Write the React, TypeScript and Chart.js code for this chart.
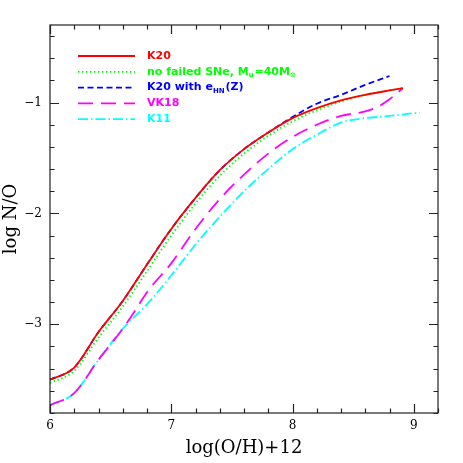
import React, { useEffect, useRef } from "react";
import { Chart, registerables } from "chart.js";

Chart.register(...registerables);

// ---- data ----
const k20X = [6.0, 6.2, 6.4, 6.6, 6.8, 7.0, 7.2, 7.4, 7.6, 7.8, 8.0, 8.2, 8.4, 8.6, 8.8, 8.91];
const k20Y = [-3.50, -3.39, -3.07, -2.79, -2.46, -2.14, -1.86, -1.61, -1.42, -1.27, -1.14, -1.05, -0.98, -0.93, -0.89, -0.87];

const noFailedX = [6.0, 6.2, 6.4, 6.6, 6.8, 7.0, 7.2, 7.4, 7.6, 7.8, 8.0, 8.2, 8.4, 8.6, 8.8, 8.91];
const noFailedY = [-3.53, -3.42, -3.12, -2.84, -2.52, -2.20, -1.91, -1.66, -1.46, -1.30, -1.17, -1.07, -0.99, -0.93, -0.89, -0.87];

const k20eX = [6.0, 6.2, 6.4, 6.6, 6.8, 7.0, 7.2, 7.4, 7.6, 7.8, 8.0, 8.2, 8.4, 8.6, 8.8];
const k20eY = [-3.50, -3.39, -3.07, -2.79, -2.46, -2.14, -1.86, -1.61, -1.42, -1.27, -1.13, -1.01, -0.93, -0.84, -0.76];

const vk18X = [6.0, 6.2, 6.4, 6.6, 6.7, 6.8, 7.0, 7.2, 7.4, 7.6, 7.8, 8.0, 8.2, 8.4, 8.6, 8.7, 8.8, 8.91];
const vk18Y = [-3.73, -3.62, -3.32, -3.04, -2.88, -2.71, -2.45, -2.14, -1.87, -1.65, -1.46, -1.31, -1.20, -1.12, -1.08, -1.04, -0.97, -0.87];

const k11X = [6.0, 6.2, 6.4, 6.6, 6.8, 7.0, 7.2, 7.4, 7.6, 7.8, 8.0, 8.2, 8.4, 8.5, 8.6, 8.8, 9.05];
const k11Y = [-3.73, -3.62, -3.32, -3.04, -2.82, -2.56, -2.28, -2.03, -1.80, -1.60, -1.42, -1.29, -1.18, -1.155, -1.14, -1.12, -1.09];

const xMajorTicks = [6, 7, 8, 9];
const yMajorTicks = [-3, -2, -1];
const xRange = [6, 9.2];
const yRange = [-3.8, -0.3];
const minorStep = 0.2;

const xTitle = "log(O/H)+12";
const yTitle = "log N/O";

// legend pieces: [text, isSubscript]
const legendItems = [
  { color: "#ff0000", dash: [] as number[], parts: [["K20", false]] },
  { color: "#00ff00", dash: [1.5, 2.5], parts: [["no failed SNe, M", false], ["u", true], ["=40M", false], ["\u2299", true]] },
  { color: "#0000ff", dash: [6, 3.5], parts: [["K20 with e", false], ["HN", true], ["(Z)", false]] },
  { color: "#ff00ff", dash: [15, 8], parts: [["VK18", false]] },
  { color: "#00ffff", dash: [10, 3, 1.5, 3], parts: [["K11", false]] },
];

const zip = (xs: number[], ys: number[]) => xs.map((x, i) => ({ x, y: ys[i] }));

const framePlugin = {
  id: "frameTicks",
  afterDraw(chart: any) {
    const { ctx, chartArea, scales } = chart;
    const { left, right, top, bottom } = chartArea;
    const xs = scales.x;
    const ys = scales.y;
    ctx.save();
    ctx.strokeStyle = "#222";
    ctx.lineWidth = 1.2;
    ctx.setLineDash([]);
    ctx.strokeRect(left, top, right - left, bottom - top);
    const n = Math.floor((xRange[1] - xRange[0]) / minorStep + 1e-6);
    for (let i = 0; i <= n; i++) {
      const v = +(xRange[0] + i * minorStep).toFixed(3);
      if (v > xRange[1] + 1e-6) continue;
      const major = xMajorTicks.some((t) => Math.abs(t - v) < 1e-6);
      const len = major ? 9 : 4.5;
      const px = Math.round(xs.getPixelForValue(v)) + 0.5;
      ctx.beginPath();
      ctx.moveTo(px, bottom);
      ctx.lineTo(px, bottom - len);
      ctx.moveTo(px, top);
      ctx.lineTo(px, top + len);
      ctx.stroke();
    }
    const m = Math.floor((yRange[1] - yRange[0]) / minorStep + 1e-6);
    for (let i = 0; i <= m; i++) {
      const v = +(yRange[0] + i * minorStep).toFixed(3);
      if (v > yRange[1] + 1e-6) continue;
      const major = yMajorTicks.some((t) => Math.abs(t - v) < 1e-6);
      const len = major ? 9 : 4.5;
      const py = Math.round(ys.getPixelForValue(v)) + 0.5;
      ctx.beginPath();
      ctx.moveTo(left, py);
      ctx.lineTo(left + len, py);
      ctx.moveTo(right, py);
      ctx.lineTo(right - len, py);
      ctx.stroke();
    }
    // legend
    const lx0 = 78, lx1 = 135, tx = 147, y0 = 56, dy = 15.8;
    const mainFont = 'bold 11px "DejaVu Sans"';
    const subFont = 'bold 7px "DejaVu Sans"';
    legendItems.forEach((it, i) => {
      const y = y0 + i * dy;
      ctx.strokeStyle = it.color;
      ctx.lineWidth = 1.8;
      ctx.setLineDash(it.dash);
      ctx.beginPath();
      ctx.moveTo(lx0, y);
      ctx.lineTo(lx1, y);
      ctx.stroke();
      ctx.setLineDash([]);
      ctx.fillStyle = it.color;
      ctx.textBaseline = "middle";
      ctx.textAlign = "left";
      let x = tx;
      it.parts.forEach(([t, sub]) => {
        ctx.font = sub ? subFont : mainFont;
        ctx.fillText(t as string, x, sub ? y + 3.5 : y);
        x += ctx.measureText(t as string).width + (sub ? 0.8 : 0);
      });
    });
    ctx.restore();
  },
};

export default function App() {
  const ref = useRef<HTMLCanvasElement | null>(null);
  useEffect(() => {
    document.body.style.margin = "0";
    const canvas = ref.current;
    if (!canvas) return;
    const lw = 1.8;
    const common = { pointRadius: 0, fill: false, cubicInterpolationMode: "monotone", borderWidth: lw };
    const chart = new Chart(canvas, {
      type: "line",
      data: {
        datasets: [
          { label: "K20", data: zip(k20X, k20Y), borderColor: "#ff0000", ...common },
          { label: "no failed SNe", data: zip(noFailedX, noFailedY), borderColor: "#00ff00", borderDash: [1.5, 2.5], ...common },
          { label: "K20 with eHN(Z)", data: zip(k20eX, k20eY), borderColor: "#0000ff", borderDash: [6, 3.5], ...common },
          { label: "VK18", data: zip(vk18X, vk18Y), borderColor: "#ff00ff", borderDash: [15, 8], ...common },
          { label: "K11", data: zip(k11X, k11Y), borderColor: "#00ffff", borderDash: [10, 3, 1.5, 3], ...common },
        ],
      },
      options: {
        responsive: false,
        animation: false,
        devicePixelRatio: 1,
        layout: { padding: { top: 25, right: 25, left: 0, bottom: 0 } },
        plugins: { legend: { display: false }, tooltip: { enabled: false } },
        scales: {
          x: {
            type: "linear",
            min: xRange[0],
            max: xRange[1],
            grid: { display: false, drawTicks: false },
            border: { display: false },
            afterFit: (s: any) => { s.height = 50; },
            afterBuildTicks: (s: any) => { s.ticks = xMajorTicks.map((value) => ({ value })); },
            ticks: {
              color: "#000",
              padding: 6,
              maxRotation: 0,
              font: { family: '"DejaVu Serif"', size: 12 },
              callback: (v: any) => String(v),
            },
            title: {
              display: true,
              text: xTitle,
              color: "#000",
              font: { family: '"DejaVu Serif"', size: 18 },
              padding: { top: 0, bottom: 4 },
            },
          },
          y: {
            type: "linear",
            min: yRange[0],
            max: yRange[1],
            grid: { display: false, drawTicks: false },
            border: { display: false },
            afterFit: (s: any) => { s.width = 50; },
            afterBuildTicks: (s: any) => { s.ticks = yMajorTicks.map((value) => ({ value })); },
            ticks: {
              color: "#000",
              padding: 8,
              font: { family: '"DejaVu Serif"', size: 12 },
              callback: (v: any) => (v < 0 ? "\u2212" + Math.abs(v) : String(v)),
            },
            title: {
              display: true,
              text: yTitle,
              color: "#000",
              font: { family: '"DejaVu Serif"', size: 18 },
              padding: { top: 1, bottom: 0 },
            },
          },
        },
      },
      plugins: [framePlugin],
    } as any);
    return () => chart.destroy();
  }, []);
  return (
    <div style={{ position: "absolute", left: 0, top: 0, width: 463, height: 463, background: "#fff" }}>
      <canvas ref={ref} width={463} height={463} style={{ width: 463, height: 463, display: "block" }} />
    </div>
  );
}
